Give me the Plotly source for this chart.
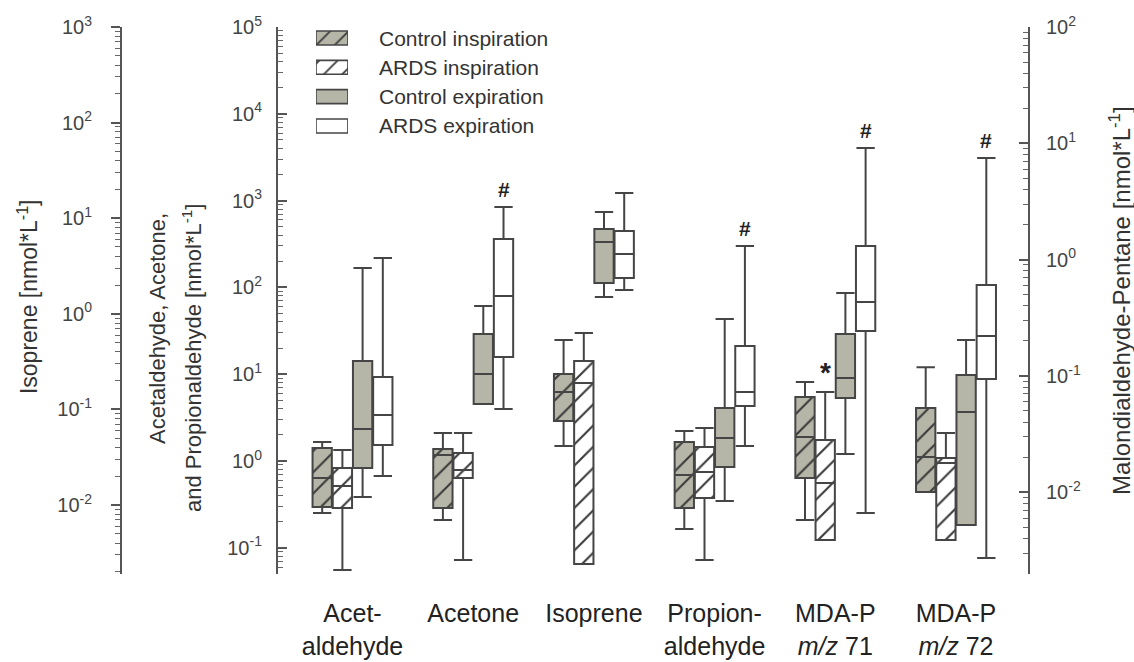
import numpy as np
import plotly.graph_objects as go

# ---------------- data ----------------
categories = ["Acet-<br>aldehyde", "Acetone", "Isoprene", "Propion-<br>aldehyde",
              "MDA-P<br><i>m/z</i> 71", "MDA-P<br><i>m/z</i> 72"]
# y axis used by each category: y = Isoprene, y2 = aldehydes/acetone, y3 = MDA-P
category_axis = ["y2", "y2", "y", "y2", "y3", "y3"]

series_names = ["Control inspiration", "ARDS inspiration", "Control expiration", "ARDS expiration"]

ctrl_insp_low = [0.252, 0.209, 0.0414, 0.165, 0.00577, 0.01004]
ctrl_insp_q1 = [0.295, 0.288, 0.0757, 0.288, 0.01324, 0.01004]
ctrl_insp_med = [0.637, 1.17, 0.152, 0.690, 0.0298, 0.0201]
ctrl_insp_q3 = [1.41, 1.37, 0.234, 1.66, 0.0659, 0.0530]
ctrl_insp_high = [1.66, 2.10, 0.532, 2.22, 0.0887, 0.119]

ards_insp_low = [0.0555, 0.0723, 0.00242, 0.0723, 0.00388, 0.00388]
ards_insp_q1 = [0.288, 0.637, 0.00242, 0.375, 0.00388, 0.00388]
ards_insp_med = [0.515, 0.787, 0.189, 0.746, 0.0120, 0.0178]
ards_insp_q3 = [0.83, 1.24, 0.321, 1.45, 0.0281, 0.0197]
ards_insp_high = [1.34, 2.10, 0.630, 2.40, 0.0728, 0.0323]

ctrl_exp_low = [0.385, 4.54, 1.50, 0.346, 0.0213, 0.00522]
ctrl_exp_q1 = [0.83, 4.54, 2.10, 0.853, 0.0646, 0.00522]
ctrl_exp_med = [2.34, 10.05, 5.64, 1.84, 0.0960, 0.0489]
ctrl_exp_q3 = [14.2, 29.0, 7.71, 4.08, 0.229, 0.102]
ctrl_exp_high = [167, 61.1, 11.6, 43.2, 0.516, 0.204]

ards_exp_low = [0.672, 3.97, 1.77, 1.49, 0.00662, 0.00272]
ards_exp_q1 = [1.53, 15.8, 2.37, 4.30, 0.243, 0.0940]
ards_exp_med = [3.39, 79.6, 4.22, 6.24, 0.432, 0.220]
ards_exp_q3 = [9.29, 361, 7.35, 21.1, 1.31, 0.605]
ards_exp_high = [218, 843, 18.4, 300, 9.12, 7.48]

# significance marks: '#' on ARDS expiration, '*' on ARDS inspiration
hash_categories = [1, 3, 4, 5]
star_categories = [4]

isoprene_ticks = [1e-2, 1e-1, 1e0, 1e1, 1e2, 1e3]
isoprene_ticktext = ["10<sup>-2</sup>", "10<sup>-1</sup>", "10<sup>0</sup>", "10<sup>1</sup>", "10<sup>2</sup>", "10<sup>3</sup>"]
aldehyde_ticks = [1e-1, 1e0, 1e1, 1e2, 1e3, 1e4, 1e5]
aldehyde_ticktext = ["10<sup>-1</sup>", "10<sup>0</sup>", "10<sup>1</sup>", "10<sup>2</sup>", "10<sup>3</sup>", "10<sup>4</sup>", "10<sup>5</sup>"]
mda_ticks = [1e-2, 1e-1, 1e0, 1e1, 1e2]
mda_ticktext = ["10<sup>-2</sup>", "10<sup>-1</sup>", "10<sup>0</sup>", "10<sup>1</sup>", "10<sup>2</sup>"]

# ---------------- styling ----------------
GRAY = "#b6b6a8"
LINE = "#454545"
HATCH = "#3a3a3a"
series_fill = [GRAY, "white", GRAY, "white"]
series_hatch = ["/", "/", "", ""]
SLOT = 0.1674
BOX_W = 0.16
offsets = [(k - 1.5) * SLOT for k in range(4)]

stats = [
    (ctrl_insp_low, ctrl_insp_q1, ctrl_insp_med, ctrl_insp_q3, ctrl_insp_high),
    (ards_insp_low, ards_insp_q1, ards_insp_med, ards_insp_q3, ards_insp_high),
    (ctrl_exp_low, ctrl_exp_q1, ctrl_exp_med, ctrl_exp_q3, ctrl_exp_high),
    (ards_exp_low, ards_exp_q1, ards_exp_med, ards_exp_q3, ards_exp_high),
]

fig = go.Figure()

for k in range(4):
    low, q1, med, q3, high = stats[k]
    for ax in ["y", "y2", "y3"]:
        idx = [i for i, a in enumerate(category_axis) if a == ax]
        xs = [i + offsets[k] for i in idx]
        fig.add_trace(go.Bar(
            x=xs, base=[q1[i] for i in idx], y=[q3[i] - q1[i] for i in idx],
            width=BOX_W, xaxis="x", yaxis=ax, showlegend=False, hoverinfo="skip",
            marker=dict(color=series_fill[k], line=dict(width=0),
                        pattern=dict(shape=series_hatch[k], fgcolor=HATCH, fgopacity=1,
                                     size=15, solidity=0.14, fillmode="overlay")),
        ))
        fig.add_trace(go.Box(
            x=xs, q1=[q1[i] for i in idx], median=[med[i] for i in idx],
            q3=[q3[i] for i in idx], lowerfence=[low[i] for i in idx],
            upperfence=[high[i] for i in idx], width=BOX_W, whiskerwidth=0.95,
            fillcolor="rgba(0,0,0,0)", line=dict(color=LINE, width=2),
            boxpoints=False, xaxis="x", yaxis=ax, showlegend=False, hoverinfo="skip",
        ))

# legend (drawn on a hidden small subplot)
for k in range(4):
    fig.add_trace(go.Bar(
        x=[1], y=[k], base=[0], orientation="h", width=0.477, xaxis="x4", yaxis="y4",
        showlegend=False, hoverinfo="skip",
        marker=dict(color=series_fill[k], line=dict(color=LINE, width=1.6),
                    pattern=dict(shape=series_hatch[k], fgcolor=HATCH, fgopacity=1,
                                 size=13, solidity=0.14, fillmode="overlay")),
    ))

annotations = []
for k, name in enumerate(series_names):
    annotations.append(dict(text=name, xref="paper", yref="y4", x=0.2815, y=k,
                            xanchor="left", yanchor="middle", showarrow=False,
                            font=dict(size=21, color="#333")))

for i in hash_categories:
    annotations.append(dict(text="<b>#</b>", xref="x", yref=category_axis[i],
                            x=i + offsets[3], y=np.log10(ards_exp_high[i]),
                            xanchor="center", yanchor="bottom", yshift=4,
                            showarrow=False, font=dict(size=21, color="#222")))
for i in star_categories:
    annotations.append(dict(text="<b>*</b>", xref="x", yref=category_axis[i],
                            x=i + offsets[1], y=np.log10(ards_insp_high[i]),
                            xanchor="center", yanchor="bottom", yshift=2,
                            showarrow=False, font=dict(size=28, color="#222")))

# axis titles
TITLE_FONT = dict(size=23, color="#333")
annotations += [
    dict(text="Isoprene [nmol*L<sup>-1</sup>]", xref="paper", yref="paper",
         x=-0.1038, y=0.508, textangle=-90, showarrow=False,
         xanchor="center", yanchor="middle", font=TITLE_FONT),
    dict(text="Acetaldehyde, Acetone,", xref="paper", yref="paper",
         x=0.0386, y=0.4497, textangle=-90, showarrow=False,
         xanchor="center", yanchor="middle", font=dict(size=22, color="#333")),
    dict(text="and Propionaldehyde [nmol*L<sup>-1</sup>]", xref="paper", yref="paper",
         x=0.0773, y=0.395, textangle=-90, showarrow=False,
         xanchor="center", yanchor="middle", font=dict(size=22, color="#333")),
    dict(text="Malondialdehyde-Pentane [nmol*L<sup>-1</sup>]", xref="paper", yref="paper",
         x=1.1015, y=0.501, textangle=-90, showarrow=False,
         xanchor="center", yanchor="middle", font=dict(size=24, color="#333")),
]


def minor_vals(lo, hi):
    return [m * 10.0 ** e for e in range(lo, hi) for m in range(2, 10)]


def yaxis_style(tickvals, ticktext, ticks, minor_range, standoff):
    return dict(
        type="log", tickmode="array", tickvals=tickvals, ticktext=ticktext,
        showline=True, linecolor="#555", linewidth=2, ticks=ticks, ticklen=9,
        tickwidth=1.5, tickcolor="#555", showgrid=False, zeroline=False,
        tickfont=dict(size=20, color="#444"), ticklabelstandoff=standoff,
        automargin=False,
        minor=dict(tickmode="array", tickvals=minor_vals(*minor_range), ticks=ticks,
                   ticklen=5, tickwidth=1, tickcolor="#666", showgrid=False),
    )


ya = yaxis_style(isoprene_ticks, isoprene_ticktext, "outside", (-3, 3), 15)
ya.update(range=[-2.722, 3], side="left", anchor="x")
ya2 = yaxis_style(aldehyde_ticks, aldehyde_ticktext, "inside", (-2, 5), 10)
ya2.update(range=[-1.302, 5], side="left", anchor="free", position=0.171, overlaying="y")
ya3 = yaxis_style(mda_ticks, mda_ticktext, "inside", (-3, 2), 12)
ya3.update(range=[-2.703, 2], side="right", anchor="x", overlaying="y")

fig.update_layout(
    width=1134, height=662,
    margin=dict(l=122, r=106, t=27, b=88, pad=0, autoexpand=False),
    paper_bgcolor="white", plot_bgcolor="white",
    showlegend=False, barmode="overlay", boxmode="overlay",
    font=dict(family="Liberation Sans, Arial, sans-serif", color="#333"),
    xaxis=dict(range=[-1.9097, 5.5965], tickmode="array", tickvals=list(range(len(categories))),
               ticktext=categories, showline=False, showgrid=False, zeroline=False,
               ticks="", tickfont=dict(size=25, color="#222"), ticklabelstandoff=22,
               automargin=False),
    yaxis=ya, yaxis2=ya2, yaxis3=ya3,
    xaxis4=dict(domain=[0.2141, 0.2494], range=[0, 1], visible=False, anchor="y4"),
    yaxis4=dict(domain=[0.7934, 1.0], range=[3.478, -0.375], visible=False, anchor="x4"),
    annotations=annotations,
)

fig.write_html("out.html", config={"displayModeBar": False})
